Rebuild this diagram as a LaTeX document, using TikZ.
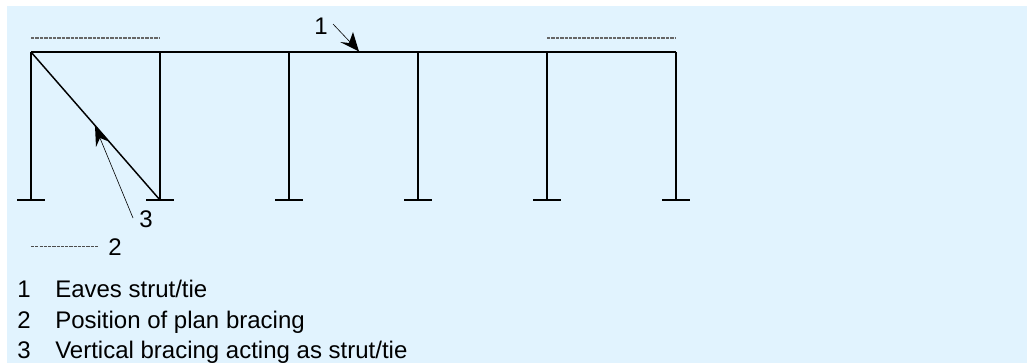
\documentclass[tikz,border=0pt]{standalone}
\usepackage{fontspec}
\setmainfont{Liberation Sans}
\definecolor{panelblue}{RGB}{225,243,254}
\tikzset{
    member/.style={line width=1.1pt,black},
    planline/.style={line width=0.9pt,black!60,dash pattern=on 2.6pt off 0.7pt},
    keyline/.style={line width=0.6pt,black!70,dash pattern=on 2.4pt off 0.8pt},
    leader/.style={line width=0.45pt,black},
    tiplabel/.style={inner sep=0pt,font=\fontsize{18}{18}\selectfont},
    legend/.style={inner sep=0pt,anchor=base west,font=\fontsize{18}{18}\selectfont}
}
\begin{document}
\begin{tikzpicture}[x=0.75pt,y=-0.75pt]
\def\bayw{129};%ancho de vano
\def\topy{52};%nivel de alero
\def\basey{200};%nivel de base
\def\plate{14};%medio ancho de placa

\useasboundingbox (0,0) rectangle (1027,363);
\fill[panelblue] (7,6) rectangle (1027,363);

%Porticos
\coordinate (topL) at (31,\topy);
\coordinate (topR) at (676,\topy);
\draw[member] (topL) -- (topR);
\foreach \c [evaluate={\x=31+\bayw*\c}] in {0,...,5}{
    \draw[member] (\x,\topy) -- (\x,\basey);
    \draw[member] (\x-\plate,\basey) -- (\x+\plate,\basey);
}

%Arriostramiento
\coordinate (braceB) at (160,\basey);
\draw[member] (topL) -- (braceB);

%Arriostramiento en planta
\draw[planline] (31,38) -- (160,38);
\draw[planline] (547,38) -- (676,38);

%Etiquetas
\node[tiplabel] (labelA) at (321,26) {1};
\node[tiplabel] (labelB) at (115,247) {2};
\node[tiplabel] (labelC) at (146,219) {3};
\coordinate (tipA) at (359,51.5);
\coordinate (startA) at (333,24);
\coordinate (tipC) at (95,126);
\coordinate (startC) at (133,218);
\coordinate (keyB) at (31,246);
\coordinate (keyE) at (99,246);
\draw[keyline] (keyB) -- (keyE);

%Flechas
\draw[leader] (startA) -- (tipA);
\fill (tipA) -- (340,42) -- (349,43) -- (353,32) -- cycle;
\draw[leader] (startC) -- (tipC);
\fill (tipC) -- (96,147) -- (100,138) -- (110,142) -- cycle;

%Leyenda
\node[legend] (numA) at (17,297) {1};
\node[legend] (textA) at (55,297) {Eaves strut/tie};
\node[legend] (numB) at (17,328) {2};
\node[legend] (textB) at (55,328) {Position of plan bracing};
\node[legend] (numC) at (17,358) {3};
\node[legend] (textC) at (55,358) {Vertical bracing acting as strut/tie};
\end{tikzpicture}
\end{document}
